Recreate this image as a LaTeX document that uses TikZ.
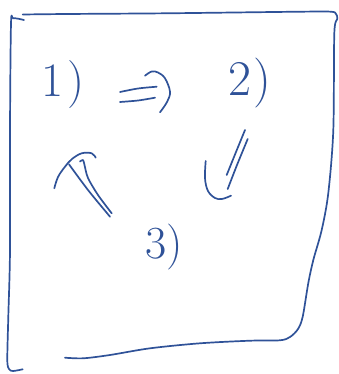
\documentclass[tikz,border=0pt]{standalone}
\definecolor{ink}{RGB}{47,82,152}
\tikzset{
  stroke/.style={draw=ink, line width=1.7pt, line cap=round, line join=round},
  lbl/.style={text=ink, inner sep=0pt, anchor=base}
}
\begin{document}
\begin{tikzpicture}[x=1pt,y=-1pt]
\useasboundingbox (0,0) rectangle (339,374);
% box: top, right and bottom in one stroke
\draw[stroke] plot[smooth, tension=0.5] coordinates {(22.7,14.5) (66.7,14) (166.7,13.3) (300,11.7) (331,11.7) (336,14) (337.3,19) (334.3,33.3) (333.3,130) (328.3,193) (321.7,230) (313.3,260) (308.3,283) (302.7,316.7) (298,329) (290,337) (280,340.3) (250,340.7) (200,343.3) (150,348.3) (110,355) (83.3,358.3) (65,357.7)};
% box: left bracket
\draw[stroke] plot[smooth, tension=0.5] coordinates {(24,20) (13.3,18.3) (11,24) (10,130) (10,250) (8.3,316.7) (7.3,360) (9,369) (13,371) (22.7,369.3)};
% labels
\node[lbl, font=\fontsize{48}{52}\selectfont] (l1) at (63,97) {1\hspace{4pt})};
\node[lbl, font=\fontsize{50}{54}\selectfont] (l2) at (250,96) {2\hspace{2pt})};
\node[lbl, font=\fontsize{46}{50}\selectfont] (l3) at (164,258) {3)};
% arrow 1 => 2
\draw[stroke] plot[smooth] coordinates {(120,92) (138,88.5) (156.7,86.7)};
\draw[stroke] plot[smooth] coordinates {(120,102) (138,100.5) (155,97.7)};
\draw[stroke] plot[smooth, tension=0.6] coordinates {(145,75.7) (151.7,71.5) (158,72.5) (165,78.3) (170,91.7) (167,102) (160,112.3)};
% arrow 2 -> 3 (down-left)
\draw[stroke] plot[smooth] coordinates {(245,130) (236,152) (226.7,175)};
\draw[stroke] plot[smooth] coordinates {(247.7,139) (237,165) (227.7,189)};
\draw[stroke] plot[smooth, tension=0.6] coordinates {(205.7,161) (205,178.3) (208,191) (215,198) (222,199) (231,195.7)};
% arrow 3 -> 1 (up-left)
\draw[stroke] plot[smooth, tension=0.6] coordinates {(54.3,188.3) (58,177) (65,166.7) (72,159) (81.7,153.3) (91.7,153.3) (95.7,157.7)};
\draw[stroke] plot[smooth] coordinates {(69,164.3) (88,190) (110,216.7)};
\draw[stroke] plot[smooth, tension=0.5] coordinates {(80,161.5) (83,160) (84.5,165) (88,178) (98,195) (111.7,213.3)};
\end{tikzpicture}
\end{document}
